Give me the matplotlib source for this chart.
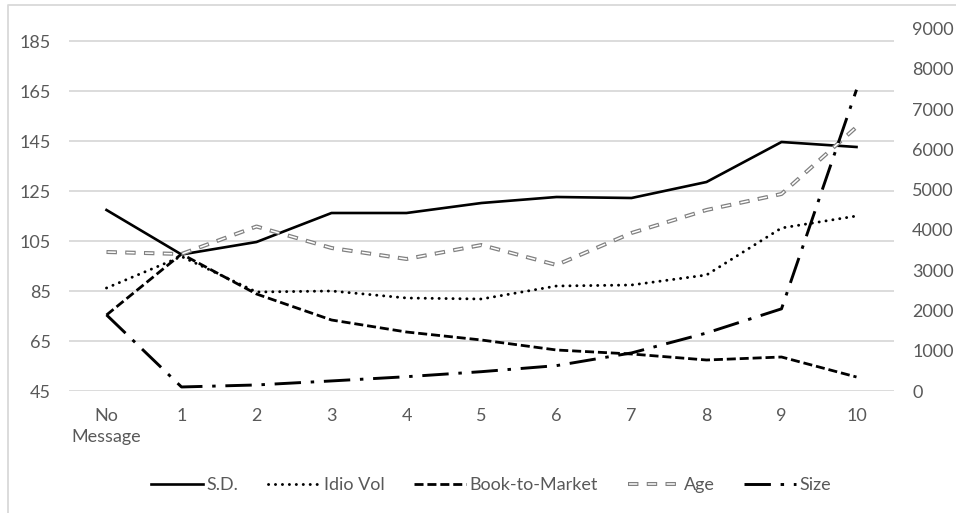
import numpy as np
import matplotlib
matplotlib.use('Agg')
import matplotlib.pyplot as plt
from matplotlib.lines import Line2D
from matplotlib.legend_handler import HandlerTuple

plt.rcParams['font.family'] = ['Lato', 'DejaVu Sans']
plt.rcParams['lines.scale_dashes'] = False

categories = ['No\nMessage', '1', '2', '3', '4', '5', '6', '7', '8', '9', '10']
sd = [117.4, 99.6, 104.6, 116.2, 116.2, 120.2, 122.6, 122.2, 128.6, 144.6, 142.6]
idio_vol = [86.2, 98.8, 84.6, 85.0, 82.2, 81.8, 87.0, 87.4, 91.4, 110.2, 115.0]
book_to_market = [75.4, 99.8, 83.8, 73.4, 68.6, 65.4, 61.4, 59.8, 57.4, 58.6, 50.6]
age = [100.6, 99.8, 110.8, 102.2, 97.8, 103.4, 95.4, 108.2, 117.4, 123.8, 150.6]
size = [1890, 100, 150, 250, 355, 480, 630, 945, 1440, 2040, 7480]

left_ticks = list(range(45, 186, 20))
right_ticks = list(range(0, 9001, 1000))

W, H = 956, 513
fig = plt.figure(figsize=(W / 100, H / 100), dpi=100)
ax = fig.add_axes([69 / W, 1 - 391 / H, (894 - 69) / W, (391 - 28.5) / H])
x = np.arange(len(categories))

FS = 13
tick_color = '#595959'
grid_color = '#d9d9d9'
age_outer = dict(color='#808080', lw=2.9, linestyle=(0, (7.5, 6.0)), dash_capstyle='butt')
age_inner = dict(color='white', lw=1.1, linestyle=(12.75, (6.0, 7.5)), dash_capstyle='butt')

ax.set_xlim(-0.5, len(categories) - 0.5)
ax.set_ylim(45, 190)
ax.set_yticks(left_ticks)
ax.set_xticks(x)
ax.set_xticklabels(categories, linespacing=1.4)
ax.grid(axis='y', color=grid_color, lw=1.3)
ax.set_axisbelow(True)
for s in ax.spines.values():
    s.set_visible(False)
ax.tick_params(axis='both', length=0, labelsize=FS, labelcolor=tick_color)
ax.tick_params(axis='y', pad=13)
ax.tick_params(axis='x', pad=12)

# Left-axis series
l_sd, = ax.plot(x, sd, color='black', lw=1.9, solid_joinstyle='round')
l_idio, = ax.plot(x, idio_vol, color='black', lw=2.1, linestyle=(0, (0.1, 4.9)),
                  dash_capstyle='round')
l_btm, = ax.plot(x, book_to_market, color='black', lw=2.0, linestyle=(0, (6.5, 2.8)))
ax.plot(x, age, **age_outer)
ax.plot(x, age, **age_inner)

# Right-axis series
ax2 = ax.twinx()
ax2.set_ylim(0, 9000)
ax2.set_yticks(right_ticks)
for s in ax2.spines.values():
    s.set_visible(False)
ax2.tick_params(axis='y', length=0, labelsize=FS, labelcolor=tick_color, pad=13)
l_size, = ax2.plot(x, size, color='black', lw=2.1,
                   linestyle=(0, (19, 7, 2.5, 7)), dash_capstyle='butt')

# Legend
h_age_o = Line2D([], [], **age_outer)
h_age_i = Line2D([], [], **age_inner)
handles = [l_sd, l_idio, l_btm, (h_age_o, h_age_i), l_size]
labels = ['S.D.', 'Idio Vol', 'Book-to-Market', 'Age', 'Size']
fig.legend(handles, labels, loc='center', bbox_to_anchor=(491 / W, 1 - 485 / H),
           ncol=5, frameon=False, handlelength=2.9, handletextpad=0.18,
           columnspacing=1.65, fontsize=FS, labelcolor=tick_color,
           handler_map={tuple: HandlerTuple(ndivide=1)})

# Chart outer border
fig.add_artist(Line2D([8 / W, 8 / W, 1.0], [0.0, 1 - 5 / H, 1 - 5 / H],
                      transform=fig.transFigure, color=grid_color, lw=1.3))

fig.savefig('out.png', dpi=100)
